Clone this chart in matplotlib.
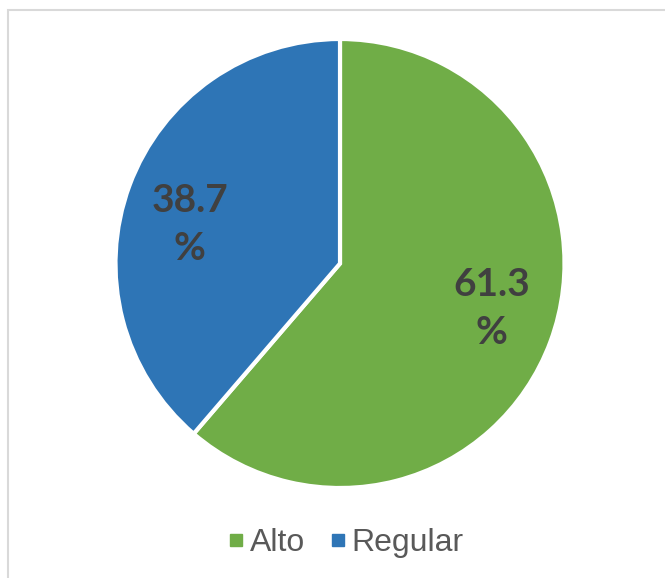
import matplotlib
matplotlib.use("Agg")
import matplotlib.pyplot as plt
from matplotlib.lines import Line2D
from matplotlib.patches import Rectangle

categories = ["Alto", "Regular"]
values = [61.3, 38.7]
colors = ["#70AD47", "#2E75B6"]

W, H = 665, 578
fig = plt.figure(figsize=(W / 100, H / 100), dpi=100)

# chart frame
fig.patches.append(Rectangle((7.5 / W, -0.05), 1.2, 1 - 9.5 / H + 0.05,
                             transform=fig.transFigure, fill=False,
                             edgecolor="#D9D9D9", linewidth=1.5))

cx, cy, r = 340, H - 263.5, 224.5
ax = fig.add_axes([(cx - r) / W, (cy - r) / H, 2 * r / W, 2 * r / H])
wedges, _ = ax.pie(values, colors=colors, startangle=90, counterclock=False,
                   radius=1, wedgeprops=dict(edgecolor="white", linewidth=3))
ax.set_xlim(-1, 1)
ax.set_ylim(-1, 1)
ax.set_aspect("equal")
ax.axis("off")

# data labels
label_pos = {"Alto": (0.675, -0.20), "Regular": (-0.67, 0.175)}
for cat, val in zip(categories, values):
    x, y = label_pos[cat]
    ax.text(x, y, f"{val}\n%", ha="center", va="center", fontsize=28,
            fontweight="bold", family="Lato", color="#404040", linespacing=1.45)

handles = [Line2D([], [], marker="s", linestyle="none", markersize=8.5,
                  markerfacecolor=c, markeredgecolor=c) for c in colors]
fig.legend(handles, categories, loc="center", bbox_to_anchor=(346 / W, 1 - 543 / H),
           ncol=2, frameon=False, prop=dict(family="Liberation Sans", size=23),
           labelcolor="#595959", handletextpad=0.2, columnspacing=0.8,
           handlelength=0.45)

fig.savefig("out.png", dpi=100)
